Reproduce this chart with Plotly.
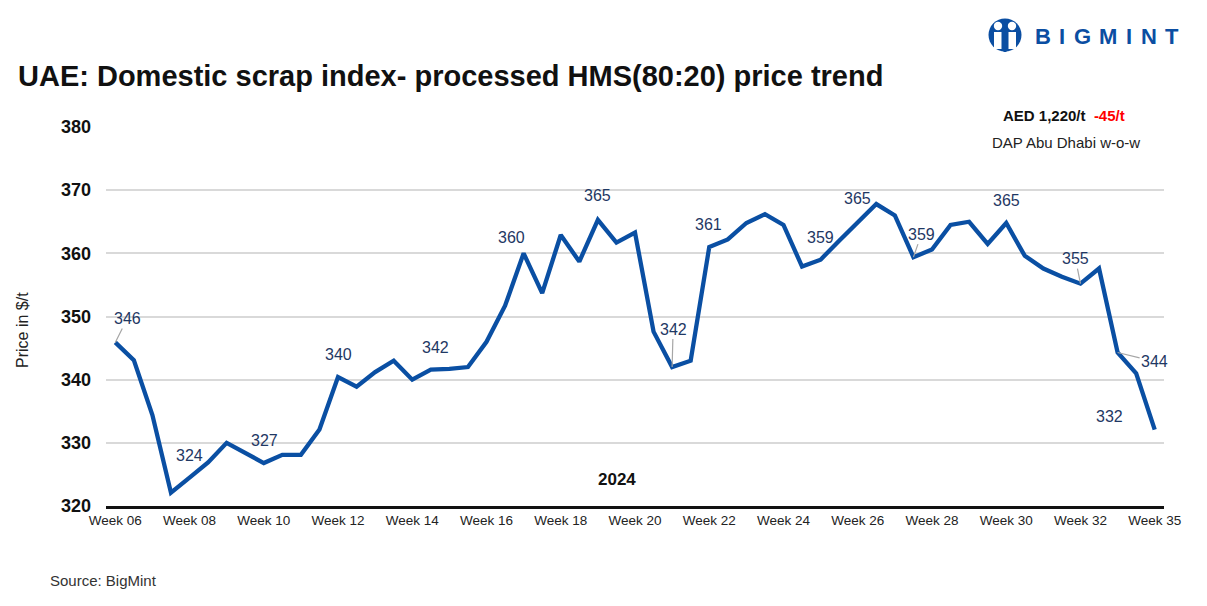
import plotly.graph_objects as go

# ---------------- data ----------------
prices = [345.9, 343.1, 334.4, 322.1, 324.5, 326.9, 330.0, 328.4, 326.8, 328.1,
          328.1, 332.1, 340.4, 338.9, 341.2, 343.0, 340.0, 341.6, 341.7, 342.0,
          346.0, 351.7, 360.0, 353.7, 362.9, 358.7, 365.3, 361.7, 363.3, 347.6,
          342.0, 343.0, 361.0, 362.2, 364.8, 366.2, 364.5, 357.9, 359.0, 362.0,
          364.9, 367.8, 366.0, 359.4, 360.6, 364.5, 365.0, 361.5, 364.8, 359.6,
          357.6, 356.3, 355.2, 357.6, 344.3, 341.0, 332.1]
points = list(range(len(prices)))

tick_positions = [0, 4, 8, 12, 16, 20, 24, 28, 32, 36, 40, 44, 48, 52, 56]
tick_labels = ["Week 06", "Week 08", "Week 10", "Week 12", "Week 14", "Week 16",
               "Week 18", "Week 20", "Week 22", "Week 24", "Week 26", "Week 28",
               "Week 30", "Week 32", "Week 35"]

labelled_points = [0, 4, 8, 12, 17, 22, 26, 30, 32, 38, 40, 43, 48, 52, 54, 56]

# ---------------- styling ----------------
FONT = "Liberation Sans, Arial, sans-serif"
LINE_COLOR = "#0A4FA3"
LOGO_COLOR = "#0B4EA2"
LABEL_COLOR = "#1F3864"
OFF = 8                      # page body margin of the html page
W, H = 1207 - OFF, 606 - OFF
L, R, T, B = 106 - OFF, 43, 127 - OFF, 100
PW, PH = W - L - R, H - T - B

# label offsets (px): (dx, dy, leader line?)
label_style = {
    0: (12, -24, True), 4: (0, -22, False), 8: (1, -23, False), 12: (0, -23, False),
    17: (5, -22, False), 22: (-12, -16, False), 26: (0, -24, False),
    30: (1, -38, True), 32: (-1, -23, False), 38: (0, -22, False),
    40: (0, -24, False), 43: (8, -23, True), 48: (0, -23, False),
    52: (-5, -25, True), 54: (37, 9, True), 56: (-45, -13, False),
}


def pp(px, py):
    """reference-page pixel -> paper coords"""
    fx, fy = px - OFF, py - OFF
    return (fx - L) / PW, (H - B - fy) / PH


fig = go.Figure()
fig.add_trace(go.Scatter(
    x=points, y=prices, mode="lines",
    line=dict(color=LINE_COLOR, width=4.3),
    hoverinfo="y", showlegend=False,
))

annotations = []
for i in labelled_points:
    dx, dy, leader = label_style[i]
    txt = f"{round(prices[i]):.0f}"
    if leader:
        annotations.append(dict(
            x=points[i], y=prices[i], xref="x", yref="y", text=txt,
            showarrow=True, arrowhead=0, arrowwidth=1.2, arrowcolor="#A6A6A6",
            ax=dx, ay=dy, standoff=0,
            font=dict(family=FONT, size=16, color=LABEL_COLOR),
        ))
    else:
        annotations.append(dict(
            x=points[i], y=prices[i], xref="x", yref="y", text=txt,
            showarrow=False, xshift=dx, yshift=-dy,
            xanchor="center", yanchor="middle",
            font=dict(family=FONT, size=16, color=LABEL_COLOR),
        ))


def text_at(px, py, text, size, color, bold=False, angle=0, anchor="center"):
    x0, y0 = pp(px, py)
    annotations.append(dict(
        x=x0, y=y0, xref="paper", yref="paper",
        text=f"<b>{text}</b>" if bold else text,
        showarrow=False, xanchor=anchor, yanchor="middle", textangle=angle,
        font=dict(family=FONT, size=size, color=color)))


text_at(617, 479, "2024", 17, "#111111", bold=True)
text_at(22, 330, "Price in $/t", 16, "#222222", angle=-90)
text_at(48, 580, "Source: BigMint", 15, "#333333", anchor="left")
text_at(1064, 116, "AED 1,220/t  <span style='color:#FF0000'>-45/t</span>", 15,
        "#111111", bold=True)
text_at(1066, 142, "DAP Abu Dhabi w-o-w", 15, "#222222")

# logo word, letter by letter (letter-spaced)
logo_letters = ["B", "I", "G", "M", "I", "N", "T"]
logo_letter_x = [1042.5, 1062, 1082, 1108, 1129, 1148.5, 1171.5]
for ch, lx in zip(logo_letters, logo_letter_x):
    text_at(lx, 36, ch, 22, LOGO_COLOR, bold=True)

# logo icon shapes
shapes = []


def circle(cx, cy, r, color):
    xa, ya = pp(cx - r, cy + r)
    xb, yb = pp(cx + r, cy - r)
    return dict(type="circle", xref="paper", yref="paper", x0=xa, y0=ya, x1=xb, y1=yb,
                fillcolor=color, line=dict(width=0), layer="above")


def rect(xa_, ya_, xb_, yb_, color):
    xa, ya = pp(xa_, yb_)
    xb, yb = pp(xb_, ya_)
    return dict(type="rect", xref="paper", yref="paper", x0=xa, y0=ya, x1=xb, y1=yb,
                fillcolor=color, line=dict(width=0), layer="above")


shapes.append(circle(1005, 35, 16.5, LOGO_COLOR))
shapes.append(circle(998, 26, 4.2, "white"))
shapes.append(circle(1012, 26, 4.2, "white"))
shapes.append(rect(994, 32, 1001.5, 49, "white"))
shapes.append(rect(1008.5, 32, 1016, 49, "white"))
shapes.append(rect(1003.5, 36, 1006.5, 52, LOGO_COLOR))

fig.update_layout(
    width=W, height=H,
    margin=dict(l=L, r=R, t=T, b=B, autoexpand=False),
    paper_bgcolor="white", plot_bgcolor="white",
    title=dict(text="<b>UAE: Domestic scrap index- processed HMS(80:20) price trend</b>",
               x=(18 - OFF) / W, y=1 - (76 - OFF) / H, xref="container", yref="container",
               xanchor="left", yanchor="middle",
               font=dict(family=FONT, size=29, color="#111111")),
    xaxis=dict(range=[-0.5, 56.5], tickmode="array", tickvals=tick_positions,
               ticktext=tick_labels, showgrid=False, zeroline=False,
               showline=True, linecolor="#111111", linewidth=2.5, ticks="",
               tickfont=dict(family=FONT, size=13.5, color="#222222")),
    yaxis=dict(range=[320, 380], dtick=10, showgrid=True, gridcolor="#D9D9D9",
               gridwidth=2, zeroline=False, showline=False, ticks="",
               ticklabelstandoff=14,
               tickfont=dict(family=FONT, size=18, color="#111111"),
               tickprefix="<b>", ticksuffix="</b>"),
    annotations=annotations,
    shapes=shapes,
    font=dict(family=FONT),
)

fig.write_html("out.html")
